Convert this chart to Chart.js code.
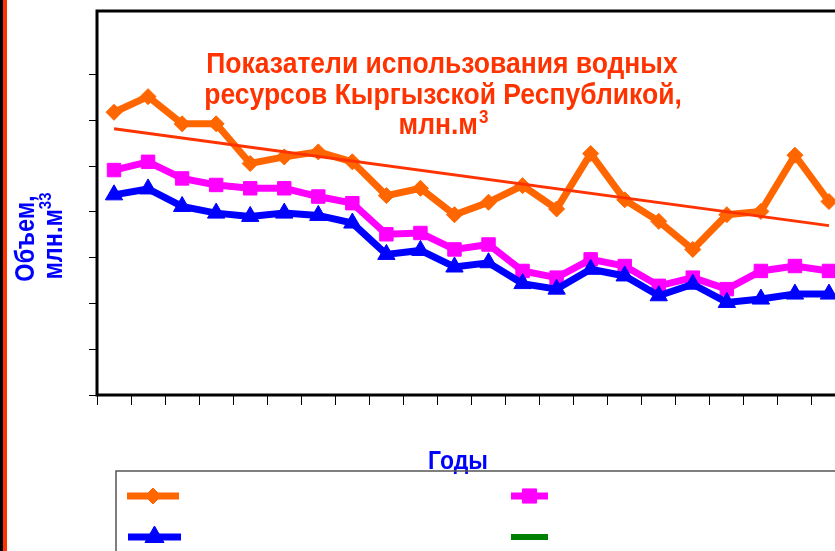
<!DOCTYPE html>
<html><head><meta charset="utf-8">
<script src="https://cdn.jsdelivr.net/npm/chart.js@4/dist/chart.umd.min.js"></script>
<style>
html,body{margin:0;padding:0;background:#fff;overflow:hidden;width:835px;height:551px}
#wrap{position:absolute;left:0;top:0;width:870px;height:551px}
</style></head>
<body><div id="wrap"><canvas id="c" width="870" height="551"></canvas></div>
<script>
// ---- data (axis labels are hidden in the reference) ----
const years = ['1990','1991','1992','1993','1994','1995','1996','1997','1998','1999','2000',
               '2001','2002','2003','2004','2005','2006','2007','2008','2009','2010','2011'];
const usageTotal      = [6175,6516,5922,5922,5055,5200,5309,5092,4355,4514,3937,4210,4572,4063,5272,4262,3792,3179,3937,4009,5237,4225];
const usageIrrigation = [4912,5092,4730,4587,4514,4514,4334,4189,3510,3538,3179,3287,2709,2563,2962,2817,2384,2563,2312,2709,2817,2709];
const usageAgri       = [4371,4500,4117,3972,3900,3972,3922,3755,3070,3157,2795,2888,2433,2312,2745,2600,2167,2420,2022,2095,2204,2204];
const usageOther      = [];          // green series: only in the legend
const trendStart = 5814, trendEnd = 3699;   // linear trend of the orange series
const yTicks = [0,1000,2000,3000,4000,5000,6000,7000];
const yMax = 8386;

const titleLines = ['Показатели использования водных', 'ресурсов Кыргызской Республикой,', 'млн.м'];
const titleSup = '3';
const yTitle1 = 'Объем,', yTitle2 = 'млн.м', yTitleSup = '33';
const xTitle = 'Годы';

const trendData = years.map((_, i) => i === 0 ? trendStart : (i === years.length - 1 ? trendEnd : null));

const C_ORANGE = '#FF6600', C_MAG = '#FF00FF', C_BLUE = '#0000FF', C_GREEN = '#008000', C_RED = '#FF3300';
const FONT = '"Liberation Sans", Arial, sans-serif';

function sText(ctx, text, x, y, sy) {
  ctx.save(); ctx.translate(x, y); ctx.scale(1, sy); ctx.fillText(text, 0, 0); ctx.restore();
}
function marker(ctx, style, r, x, y) {
  if (Chart.helpers && Chart.helpers.drawPoint) {
    Chart.helpers.drawPoint(ctx, {pointStyle: style, radius: r, rotation: 0, borderWidth: 1}, x, y);
  }
}

const decor = {
  id: 'decor',
  beforeDraw(chart) {
    const ctx = chart.ctx;
    ctx.save();
    ctx.fillStyle = '#fff'; ctx.fillRect(0, 0, chart.width, chart.height);
    ctx.fillStyle = '#000'; ctx.fillRect(0, 0, 3, chart.height);
    ctx.fillStyle = C_RED; ctx.fillRect(3, 0, 4, chart.height);
    ctx.restore();
  },
  beforeDatasetsDraw(chart) {
    const ctx = chart.ctx, a = chart.chartArea;
    ctx.save();
    ctx.strokeStyle = '#000'; ctx.lineWidth = 3;
    ctx.strokeRect(a.left, a.top, a.right - a.left, a.bottom - a.top);
    ctx.restore();
  },
  afterDraw(chart) {
    const ctx = chart.ctx;
    ctx.save();
    // chart title
    const TF = 26.5, TS = 1.08;
    ctx.fillStyle = C_RED; ctx.textAlign = 'center'; ctx.textBaseline = 'alphabetic';
    ctx.font = 'bold ' + TF + 'px ' + FONT;
    sText(ctx, titleLines[0], 442, 73, TS);
    sText(ctx, titleLines[1], 443, 103.5, TS);
    const w3 = ctx.measureText(titleLines[2]).width;
    ctx.font = 'bold 17px ' + FONT;
    const ws = ctx.measureText(titleSup).width;
    const x3 = 443 - (w3 + ws) / 2;
    ctx.textAlign = 'left';
    ctx.font = 'bold ' + TF + 'px ' + FONT;
    sText(ctx, titleLines[2], x3, 134, TS);
    ctx.font = 'bold 17px ' + FONT;
    sText(ctx, titleSup, x3 + w3 + 1, 123, TS);

    // y axis title (rotated)
    ctx.fillStyle = C_BLUE;
    ctx.save();
    ctx.translate(34, 238.5); ctx.rotate(-Math.PI / 2); ctx.scale(1, 1.15);
    ctx.textAlign = 'center'; ctx.font = 'bold 23.5px ' + FONT;
    ctx.fillText(yTitle1, 0, 0);
    ctx.restore();
    ctx.save();
    ctx.translate(61.5, 236); ctx.rotate(-Math.PI / 2); ctx.scale(1, 1.15);
    ctx.font = 'bold 23.5px ' + FONT;
    const wm = ctx.measureText(yTitle2).width;
    ctx.font = 'bold 15px ' + FONT;
    const wsup = ctx.measureText(yTitleSup).width;
    const sx = -(wm + wsup) / 2;
    ctx.textAlign = 'left';
    ctx.font = 'bold 23.5px ' + FONT;
    ctx.fillText(yTitle2, sx, 0);
    ctx.font = 'bold 15px ' + FONT;
    ctx.fillText(yTitleSup, sx + wm, -9);
    ctx.restore();

    // x axis title
    ctx.textAlign = 'center'; ctx.font = 'bold 23px ' + FONT;
    sText(ctx, xTitle, 458, 469, 1.15);

    // legend box
    ctx.strokeStyle = '#555'; ctx.lineWidth = 1.5;
    ctx.strokeRect(116, 471, 800, 200);
    ctx.lineCap = 'butt';
    const ds = chart.data.datasets;
    const entries = [
      {d: ds[3], x1: 127, x2: 179, y: 496, r: 8},
      {d: ds[2], x1: 511, x2: 548, y: 496, r: 10},
      {d: ds[1], x1: 128, x2: 181, y: 537, r: 11},
      {d: ds[4], x1: 511, x2: 548, y: 537, r: 0}
    ];
    entries.forEach(e => {
      ctx.strokeStyle = e.d.borderColor; ctx.fillStyle = e.d.backgroundColor;
      ctx.lineWidth = e.d.borderWidth;
      ctx.beginPath(); ctx.moveTo(e.x1, e.y); ctx.lineTo(e.x2, e.y); ctx.stroke();
      if (e.r > 0) { ctx.lineWidth = 1; marker(ctx, e.d.pointStyle, e.r, (e.x1 + e.x2) / 2, e.y); }
    });
    ctx.restore();
  }
};

new Chart(document.getElementById('c'), {
  type: 'line',
  data: {
    labels: years,
    datasets: [
      {label: 'trend', data: trendData, borderColor: C_RED, backgroundColor: C_RED, borderWidth: 3,
       pointRadius: 0, spanGaps: true, fill: false, order: 0},
      {label: 'blue', data: usageAgri, borderColor: C_BLUE, backgroundColor: C_BLUE, borderWidth: 7,
       pointStyle: 'triangle', pointRadius: 10, pointBorderWidth: 1, fill: false, order: 1},
      {label: 'magenta', data: usageIrrigation, borderColor: C_MAG, backgroundColor: C_MAG, borderWidth: 7,
       pointStyle: 'rect', pointRadius: 9.5, pointBorderWidth: 1, fill: false, order: 2},
      {label: 'orange', data: usageTotal, borderColor: C_ORANGE, backgroundColor: C_ORANGE, borderWidth: 7,
       pointStyle: 'rectRot', pointRadius: 8, pointBorderWidth: 1, fill: false, order: 3},
      {label: 'green', data: usageOther, borderColor: C_GREEN, backgroundColor: C_GREEN, borderWidth: 6,
       pointRadius: 0, fill: false, order: 4}
    ]
  },
  options: {
    responsive: false, animation: false, devicePixelRatio: 1,
    layout: {padding: {left: 89, top: 8, right: 24, bottom: 146}},
    plugins: {legend: {display: false}, tooltip: {enabled: false}, title: {display: false}},
    elements: {line: {tension: 0}},
    scales: {
      x: {
        offset: true,
        grid: {offset: true, drawOnChartArea: false, drawTicks: true, tickLength: 10, color: '#000', lineWidth: 1},
        border: {display: false},
        ticks: {display: false},
        afterFit(s) { s.height = 10; }
      },
      y: {
        min: 0, max: yMax,
        afterBuildTicks(s) { s.ticks = yTicks.map(v => ({value: v})); },
        grid: {drawOnChartArea: false, drawTicks: true, tickLength: 8, color: '#000', lineWidth: 1},
        border: {display: false},
        ticks: {display: false},
        afterFit(s) { s.width = 8; }
      }
    }
  },
  plugins: [decor]
});
</script>
</body></html>
